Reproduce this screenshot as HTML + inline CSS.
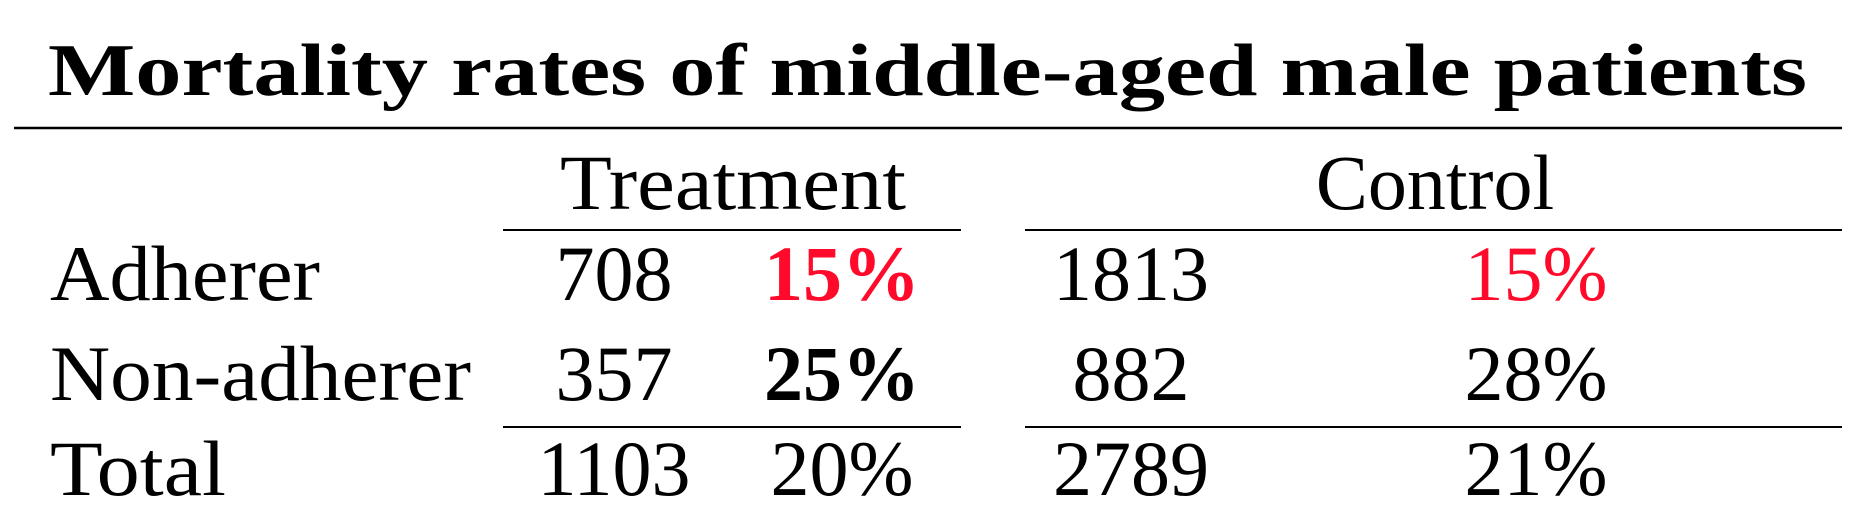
<!DOCTYPE html>
<html><head><meta charset="utf-8"><style>
html,body{margin:0;padding:0;background:#fff;width:1858px;height:514px;overflow:hidden}
text{font-family:"Liberation Serif",serif;fill:#000}
</style></head><body>
<svg id="tbl" width="1858" height="514" viewBox="0 0 1858 514" xmlns="http://www.w3.org/2000/svg">
<text x="48" y="95" font-size="74" font-weight="bold" textLength="1759" lengthAdjust="spacingAndGlyphs">Mortality rates of middle-aged male patients</text>
<line x1="14" y1="128" x2="1842" y2="128" stroke="#000" stroke-width="2.5"/>
<text x="560" y="209" font-size="78" textLength="346" lengthAdjust="spacingAndGlyphs">Treatment</text>
<text x="1435" y="209" font-size="78" text-anchor="middle">Control</text>
<line x1="503" y1="230" x2="961" y2="230" stroke="#000" stroke-width="2"/>
<line x1="1025" y1="230" x2="1842" y2="230" stroke="#000" stroke-width="2"/>
<line x1="503" y1="427" x2="961" y2="427" stroke="#000" stroke-width="2"/>
<line x1="1025" y1="427" x2="1842" y2="427" stroke="#000" stroke-width="2"/>
<g id="rows"></g>
</svg>
<script>
const rowLabels = ["Adherer", "Non-adherer", "Total"];
const treatmentN = ["708", "357", "1103"];
const treatmentRate = ["15%", "25%", "20%"];
const controlN = ["1813", "882", "2789"];
const controlRate = ["15%", "28%", "21%"];
const treatBold = [true, true, false];
const treatRed = [true, false, false];
const ctrlRed = [true, false, false];

const ys = [300, 400, 495];
const labelW = [270, 421, 176];
const g = document.getElementById('rows');
const NS = 'http://www.w3.org/2000/svg';
function txt(x, y, s, anchor, bold, red) {
  const t = document.createElementNS(NS, 'text');
  t.setAttribute('x', x); t.setAttribute('y', y);
  t.setAttribute('font-size', '78');
  if (anchor) t.setAttribute('text-anchor', anchor);
  if (bold) t.setAttribute('font-weight', 'bold');
  if (red) t.style.fill = '#ff0a2a';
  t.textContent = s;
  g.appendChild(t);
  return t;
}
rowLabels.forEach((lab, i) => {
  const y = ys[i];
  const a = txt(50, y, lab);
  a.setAttribute('textLength', labelW[i]);
  a.setAttribute('lengthAdjust', 'spacingAndGlyphs');
  
  
  const b = txt(614, y, treatmentN[i], 'middle');
  
  
  const c = txt(842, y, treatmentRate[i], 'middle', treatBold[i], treatRed[i]);
  
  
  const d = txt(1131, y, controlN[i], 'middle');
  
  
  const e = txt(1536, y, controlRate[i], 'middle', false, ctrlRed[i]);
  
  
});
</script>
</body></html>
